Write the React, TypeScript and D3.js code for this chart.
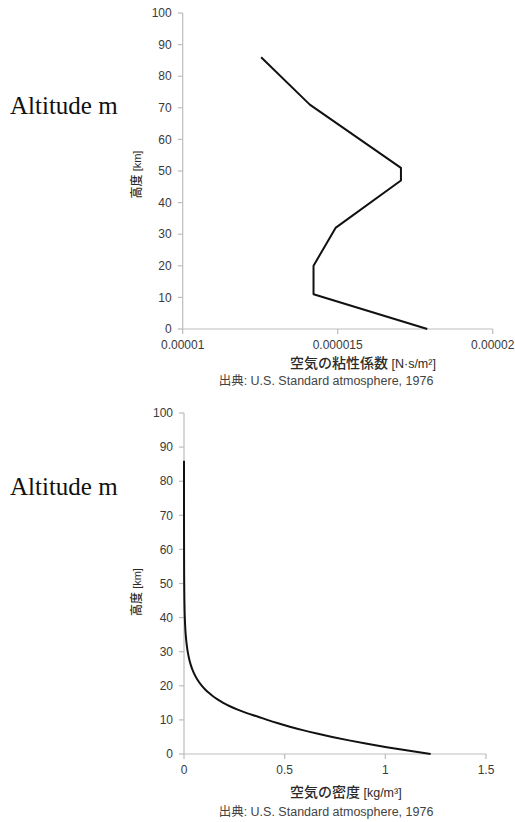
import React from "react";
import * as d3 from "d3";

// ---- Data (U.S. Standard Atmosphere, 1976) ----
const viscAltitude = [0, 11, 20, 32, 47, 51, 71, 86];
const viscValue = [1.789e-5, 1.422e-5, 1.422e-5, 1.493e-5, 1.704e-5, 1.704e-5, 1.41e-5, 1.253e-5];

const densAltitude = [0, 1, 2, 3, 4, 5, 6, 7, 8, 9, 10, 11, 12, 13, 14, 15, 16, 17, 18, 19, 20, 22, 24, 26, 28, 30, 32, 35, 40, 45, 50, 55, 60, 65, 70, 75, 80, 86];
const densValue = [1.225, 1.112, 1.007, 0.9093, 0.8194, 0.7364, 0.6601, 0.59, 0.5258, 0.4671, 0.4135, 0.3648, 0.3119, 0.2666, 0.2279, 0.1948, 0.1665, 0.1423, 0.1217, 0.104, 0.08891, 0.06451, 0.04694, 0.03426, 0.02508, 0.01841, 0.01355, 0.008463, 0.003996, 0.001966, 0.001027, 0.000568, 0.0003097, 0.0001632, 0.00008283, 0.0000399, 0.00001846, 0.000006958];

const altTicks = [0, 10, 20, 30, 40, 50, 60, 70, 80, 90, 100];
const viscTicks = [0.00001, 0.000015, 0.00002];
const viscTickLabels = ["0.00001", "0.000015", "0.00002"];
const densTicks = [0, 0.5, 1, 1.5];
const densTickLabels = ["0", "0.5", "1", "1.5"];

const sideLabel = "Altitude m";
const yTitleMain = "高度";
const yTitleUnit = " [km]";
const sourceText = "出典: U.S. Standard atmosphere, 1976";

const SANS = "'Liberation Sans', Arial, 'Noto Sans CJK JP', sans-serif";
const CJK = "'Noto Sans CJK JP', 'Liberation Sans', sans-serif";

type PanelProps = {
  x0: number; x1: number; yTop: number; yBottom: number;
  xDomain: [number, number];
  xTicks: number[]; xTickLabels: string[];
  alt: number[]; vals: number[];
  smooth: boolean;
  titleMain: string; titleUnit: string; titleX: number; titleY: number;
  sourceX: number; sourceY: number;
  yTitleX: number; yTitleY: number;
  sideY: number;
};

function Panel(p: PanelProps) {
  const x = d3.scaleLinear().domain(p.xDomain).range([p.x0, p.x1]);
  const y = d3.scaleLinear().domain([0, 100]).range([p.yBottom, p.yTop]);
  const pts = p.alt.map((a, i) => [p.vals[i], a] as [number, number]);
  const line = d3
    .line<[number, number]>()
    .x((d) => x(d[0]))
    .y((d) => y(d[1]))
    .curve(p.smooth ? d3.curveMonotoneY : d3.curveLinear);
  const axisColor = "#bdbdbd";
  return (
    <g>
      <text x={10} y={p.sideY} fontFamily="'Liberation Serif', 'Times New Roman', serif" fontSize={25} fill="#111">
        {sideLabel}
      </text>
      {/* y axis */}
      <line x1={p.x0} x2={p.x0} y1={p.yTop} y2={p.yBottom} stroke={axisColor} strokeWidth={1.2} />
      {altTicks.map((t) => (
        <g key={"y" + t}>
          <line x1={p.x0 - 5} x2={p.x0} y1={y(t)} y2={y(t)} stroke={axisColor} strokeWidth={1.2} />
          <text x={p.x0 - 11} y={y(t)} dy="0.35em" textAnchor="end" fontFamily={SANS} fontSize={12} fill="#3a3a3a">
            {t}
          </text>
        </g>
      ))}
      {/* x axis */}
      <line x1={p.x0} x2={p.x1} y1={p.yBottom} y2={p.yBottom} stroke={axisColor} strokeWidth={1.2} />
      {p.xTicks.map((t, i) => (
        <g key={"x" + t}>
          <line x1={x(t)} x2={x(t)} y1={p.yBottom} y2={p.yBottom + 5} stroke={axisColor} strokeWidth={1.2} />
          <text x={x(t)} y={p.yBottom + 20} textAnchor="middle" fontFamily={SANS} fontSize={12} fill="#3a3a3a">
            {p.xTickLabels[i]}
          </text>
        </g>
      ))}
      <path d={line(pts) || ""} fill="none" stroke="#111" strokeWidth={2} strokeLinejoin="round" />
      {/* x title */}
      <text x={p.titleX} y={p.titleY} textAnchor="start" fill="#2a2a2a">
        <tspan fontFamily={CJK} fontSize={14} fontWeight={500}>{p.titleMain}</tspan>
        <tspan fontFamily={SANS} fontSize={12.5}>{p.titleUnit}</tspan>
      </text>
      {/* y title */}
      <text
        transform={`translate(${p.yTitleX},${p.yTitleY}) rotate(-90)`}
        textAnchor="middle"
        dy="0.35em"
        fill="#2a2a2a"
      >
        <tspan fontFamily={CJK} fontSize={12} fontWeight={500}>{yTitleMain}</tspan>
        <tspan fontFamily={SANS} fontSize={11}>{yTitleUnit}</tspan>
      </text>
      {/* source */}
      <text x={p.sourceX} y={p.sourceY} textAnchor="middle" fontFamily={SANS} fontSize={12.5} fill="#444">
        {sourceText}
      </text>
    </g>
  );
}

export default function App() {
  return (
    <svg
      width={515}
      height={822}
      style={{ position: "absolute", left: 0, top: 0, background: "#fff" }}
    >
      <Panel
        x0={182.7} x1={492.7} yTop={13} yBottom={329}
        xDomain={[0.00001, 0.00002]}
        xTicks={viscTicks} xTickLabels={viscTickLabels}
        alt={viscAltitude} vals={viscValue}
        smooth={false}
        titleMain="空気の粘性係数" titleUnit=" [N·s/m²]" titleX={290} titleY={367.5}
        sourceX={326} sourceY={384.5}
        yTitleX={135} yTitleY={174.5}
        sideY={114}
      />
      <Panel
        x0={184} x1={486} yTop={413} yBottom={754}
        xDomain={[0, 1.5]}
        xTicks={densTicks} xTickLabels={densTickLabels}
        alt={densAltitude} vals={densValue}
        smooth={true}
        titleMain="空気の密度" titleUnit=" [kg/m³]" titleX={290} titleY={797}
        sourceX={326} sourceY={816}
        yTitleX={135} yTitleY={592}
        sideY={495}
      />
    </svg>
  );
}
